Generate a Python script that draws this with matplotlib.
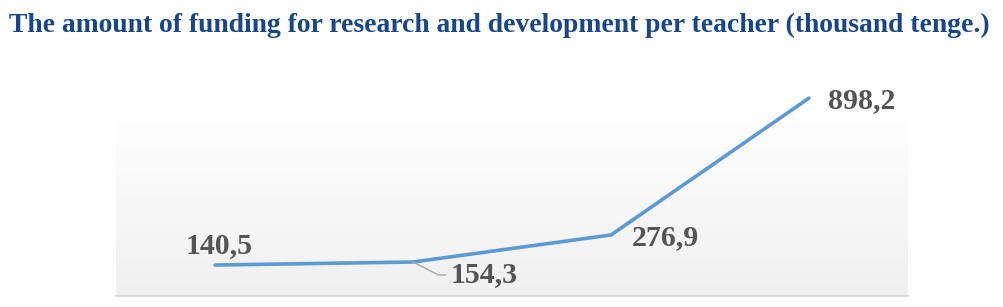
import matplotlib
matplotlib.use("Agg")
import matplotlib.pyplot as plt
import numpy as np
from matplotlib.colors import LinearSegmentedColormap

title = "The amount of funding for research and development per teacher (thousand tenge.)"
categories = ["2016", "2017", "2018", "2019"]
values = [140.5, 154.3, 276.9, 898.2]
value_labels = ["140,5", "154,3", "276,9", "898,2"]

W, H, DPI = 1004, 307, 100
fig = plt.figure(figsize=(W / DPI, H / DPI), dpi=DPI)
fig.patch.set_facecolor("white")

left, right, bottom_px, top_px = 116, 908, 296, 112
ax = fig.add_axes([left / W, (H - bottom_px) / H, (right - left) / W, (bottom_px - top_px) / H])

x = np.arange(len(categories))
ax.set_xlim(-0.5, len(categories) - 0.5)
ax.set_ylim(0, 835)

# gradient background of the plot area
grad = np.linspace(0.0, 1.0, 256).reshape(-1, 1)
cmap = LinearSegmentedColormap.from_list("bg", ["#f0f0f0", "#ffffff"])
ax.imshow(grad, extent=[-0.5, len(categories) - 0.5, 0, 835], aspect="auto",
          cmap=cmap, origin="lower", zorder=0, interpolation="bicubic")

ax.plot(x, values, color="#5B9BD5", lw=2.6, solid_capstyle="round", zorder=3, clip_on=False)

for s in ["top", "left", "right"]:
    ax.spines[s].set_visible(False)
ax.spines["bottom"].set_color("#d9d9d9")
ax.spines["bottom"].set_linewidth(1.6)
ax.set_xticks([])
ax.set_yticks([])

font = dict(family=["Liberation Serif", "DejaVu Serif"], fontweight="bold", fontsize=21.5, color="#555555")
offsets = [(4, 19), (38, -13), (54, -3), (53, -2)]
has = ["center", "left", "center", "center"]
for i, (v, lab) in enumerate(zip(values, value_labels)):
    if i == 1:
        ax.annotate(lab, xy=(x[i], v), xytext=offsets[i], textcoords="offset pixels",
                    ha=has[i], va="center", zorder=4, annotation_clip=False,
                    arrowprops=dict(arrowstyle="-", color="#a6a6a6", lw=1.0,
                                    shrinkA=2, shrinkB=0, relpos=(0, 0.5),
                                    connectionstyle="angle,angleA=0,angleB=-27,rad=0"),
                    **font)
    else:
        ax.annotate(lab, xy=(x[i], v), xytext=offsets[i], textcoords="offset pixels",
                    ha=has[i], va="center", zorder=4, annotation_clip=False, **font)

fig.text(9 / W, 1 - 32 / H, title, ha="left", va="baseline",
         family=["Liberation Serif", "DejaVu Serif"], fontweight="bold",
         fontsize=19.9, color="#17468A")

fig.savefig("out.png", dpi=DPI)
